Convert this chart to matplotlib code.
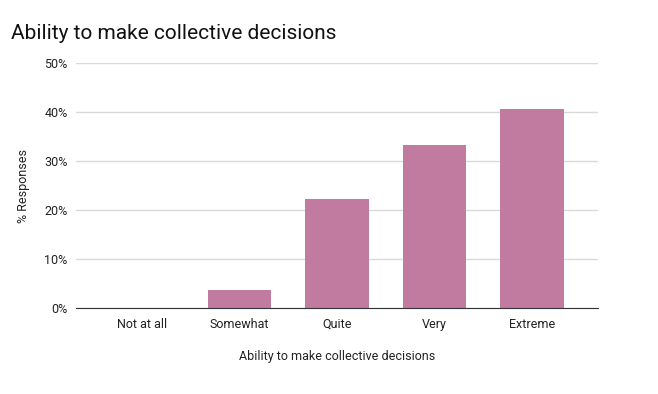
import matplotlib
matplotlib.use("Agg")
import matplotlib.pyplot as plt
from matplotlib.ticker import FuncFormatter

# data (27 responses)
categories = ['Not at all', 'Somewhat', 'Quite', 'Very', 'Extreme']
pct = [0.0, 3.7, 22.2, 33.3, 40.7]
y_ticks = [0, 10, 20, 30, 40, 50]

plt.rcParams['font.family'] = ['Roboto', 'DejaVu Sans']

fig = plt.figure(figsize=(6.58, 3.94), dpi=100)
ax = fig.add_axes([0.1155, 0.2183, 0.7933, 0.6217])

x = range(len(categories))
ax.bar(x, pct, width=0.65, color='#c27ba0', zorder=3)

ax.set_ylim(0, 50)
ax.set_xlim(-0.675, len(categories) - 1 + 0.675)
ax.set_yticks(y_ticks)
ax.yaxis.set_major_formatter(FuncFormatter(lambda v, p: '%d%%' % v))
ax.set_xticks(list(x))
ax.set_xticklabels(categories)

ax.grid(axis='y', color='#d9d9d9', linewidth=1, zorder=0)
for s in ['top', 'right', 'left']:
    ax.spines[s].set_visible(False)
ax.spines['bottom'].set_color('#333333')
ax.spines['bottom'].set_zorder(4)
ax.tick_params(axis='both', length=0, labelsize=9, labelcolor='#222222')
ax.tick_params(axis='y', pad=6)
ax.tick_params(axis='x', pad=7)

ax.set_xlabel('Ability to make collective decisions', fontsize=9, color='#222222', labelpad=14)
ax.set_ylabel('% Responses', fontsize=9, color='#222222', labelpad=10)

fig.text(0.017, 0.9, 'Ability to make collective decisions', fontsize=15, color='#111111')

fig.savefig('out.png', dpi=100)
